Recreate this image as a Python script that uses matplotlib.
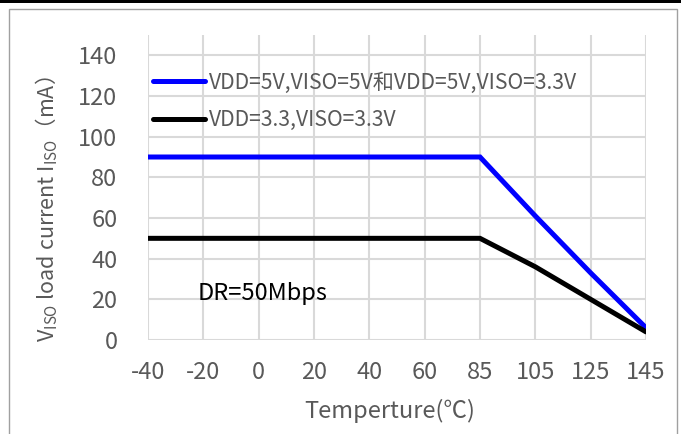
import matplotlib
matplotlib.use('Agg')
import matplotlib.pyplot as plt
from matplotlib.patches import Rectangle

plt.rcParams['font.family'] = ['Noto Sans CJK SC', 'DejaVu Sans']
plt.rcParams['mathtext.fontset'] = 'custom'
plt.rcParams['mathtext.rm'] = 'Noto Sans CJK SC'

# temperature categories (evenly spaced on the axis)
temps = ['-40', '-20', '0', '20', '40', '60', '85', '105', '125', '145']
# load current (mA)
i_5v = [90, 90, 90, 90, 90, 90, 90, 61, 33, 6]
i_33v = [50, 50, 50, 50, 50, 50, 50, 36, 20, 4]
labels = ['VDD=5V,VISO=5V和VDD=5V,VISO=3.3V', 'VDD=3.3,VISO=3.3V']
yticks = [0, 20, 40, 60, 80, 100, 120, 140]

W, H = 681, 434
fig = plt.figure(figsize=(W / 100, H / 100), dpi=100)

# outer chart frame and top bar
fig.patches.append(Rectangle((9 / W, -0.1), 668 / W, 1.1 - 9 / H,
                             transform=fig.transFigure, fill=False,
                             edgecolor='#a0a0a0', lw=1))
fig.patches.append(Rectangle((0, 1 - 3 / H), 1, 3 / H,
                             transform=fig.transFigure, color='black', lw=0))

ax = fig.add_axes([148 / W, 1 - 340 / H, 498 / W, 305 / H])
x = list(range(len(temps)))

ax.plot(x, i_5v, color='#0000ff', lw=3.6, solid_capstyle='round',
        solid_joinstyle='miter', label=labels[0], zorder=3)
ax.plot(x, i_33v, color='black', lw=3.6, solid_capstyle='round',
        solid_joinstyle='miter', label=labels[1], zorder=3)

ax.set_xlim(0, len(temps) - 1)
ax.set_ylim(0, 150)
ax.set_xticks(x)
ax.set_xticklabels(temps)
ax.set_yticks(yticks)
ax.grid(True, color='#d9d9d9', lw=1.5)
ax.set_axisbelow(True)
for s in ax.spines.values():
    s.set_visible(False)
ax.tick_params(length=0, labelsize=17, labelcolor='#595959')
ax.tick_params(axis='y', pad=22)
ax.tick_params(axis='x', pad=15)

ax.text(0.9, 23, 'DR=50Mbps', fontsize=17, color='black', va='center')

leg = ax.legend(loc='upper left', bbox_to_anchor=(0.01, 0.88), frameon=False,
                fontsize=15.2, handlelength=2.45, handletextpad=0.2,
                labelspacing=0.75, borderpad=0, borderaxespad=0)
for t in leg.get_texts():
    t.set_color('#595959')

fig.text(390 / W, 1 - 411 / H, 'Temperture(℃)', fontsize=17, color='#595959',
         ha='center', va='center')
fig.text(47 / W, 1 - 209 / H, r'V$_{\mathrm{ISO}}$ load current I$_{\mathrm{ISO}}$（mA）',
         fontsize=15.5, color='#595959', rotation=90, ha='center', va='center')

fig.savefig('out.png', dpi=100)
